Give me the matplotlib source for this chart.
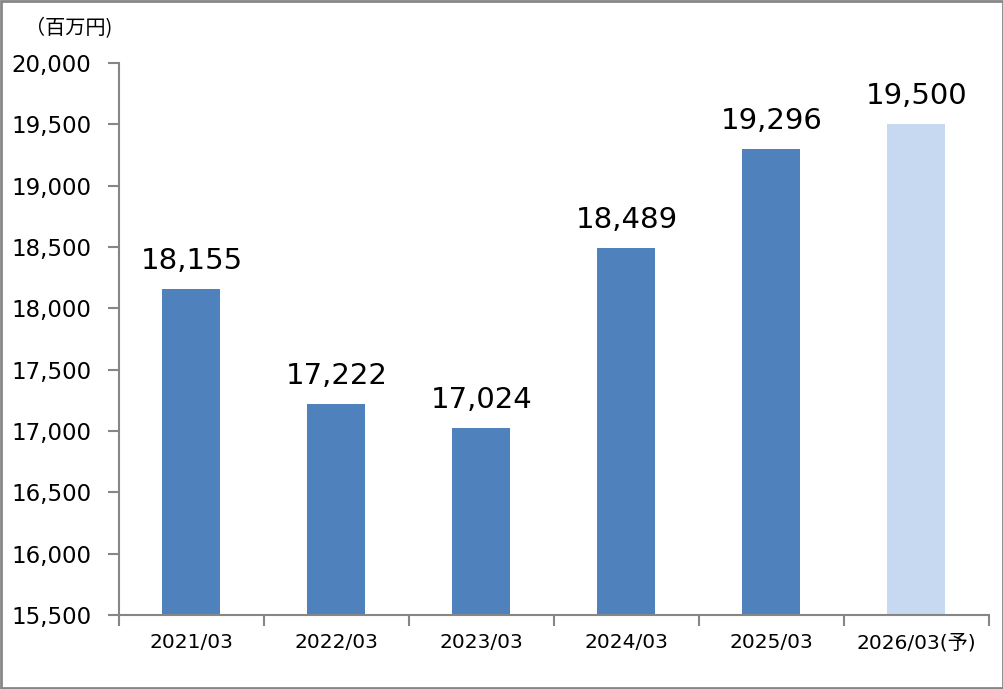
import matplotlib.pyplot as plt
from matplotlib.ticker import FuncFormatter

categories = ['2021/03', '2022/03', '2023/03', '2024/03', '2025/03', '2026/03(予)']
values = [18155, 17222, 17024, 18489, 19296, 19500]
colors = ['#4F81BD', '#4F81BD', '#4F81BD', '#4F81BD', '#4F81BD', '#C6D9F0']

plt.rcParams['font.family'] = ['DejaVu Sans', 'Noto Sans CJK JP']
axis_gray = '#868686'

fig = plt.figure(figsize=(10.04, 6.89), dpi=100)
ax = fig.add_axes([0.1185, 0.1074, 0.8665, 0.8012])

x = range(len(categories))
bars = ax.bar(x, values, width=0.4, color=colors, bottom=0)
ax.set_ylim(15500, 20000)
ax.set_xlim(-0.5, len(categories) - 0.5)
ax.set_yticks(range(15500, 20001, 500))
ax.yaxis.set_major_formatter(FuncFormatter(lambda v, p: f'{int(v):,}'))

# category labels between boundary ticks
ax.set_xticks([i + 0.5 for i in range(-1, len(categories))])
ax.set_xticklabels([])
ax.set_xticks(list(x), minor=True)
ax.set_xticklabels(categories, minor=True, fontsize=14.5)
ax.tick_params(axis='x', which='minor', length=0, pad=13)
ax.tick_params(axis='x', which='major', length=8, width=1.5, color=axis_gray, direction='out')
ax.tick_params(axis='y', length=8, width=1.5, color=axis_gray, labelsize=16.5, pad=12)

for s in ['top', 'right']:
    ax.spines[s].set_visible(False)
for s in ['left', 'bottom']:
    ax.spines[s].set_color(axis_gray)
    ax.spines[s].set_linewidth(1.5)
ax.spines['bottom'].set_bounds(-0.5, len(categories) - 0.5)

for b, v in zip(bars, values):
    ax.annotate(f'{v:,}', (b.get_x() + b.get_width() / 2, v), xytext=(0, 10),
                textcoords='offset points', ha='center', va='bottom', fontsize=21)

fig.text(0.025, 0.959, '（百万円)', fontsize=14.5, family=['Noto Sans CJK JP'], va='center')

fig.patches.append(plt.Rectangle((0.001, 0.001), 0.998, 0.998, transform=fig.transFigure,
                                 fill=False, edgecolor=axis_gray, linewidth=2))

fig.savefig('out.png', dpi=100)
